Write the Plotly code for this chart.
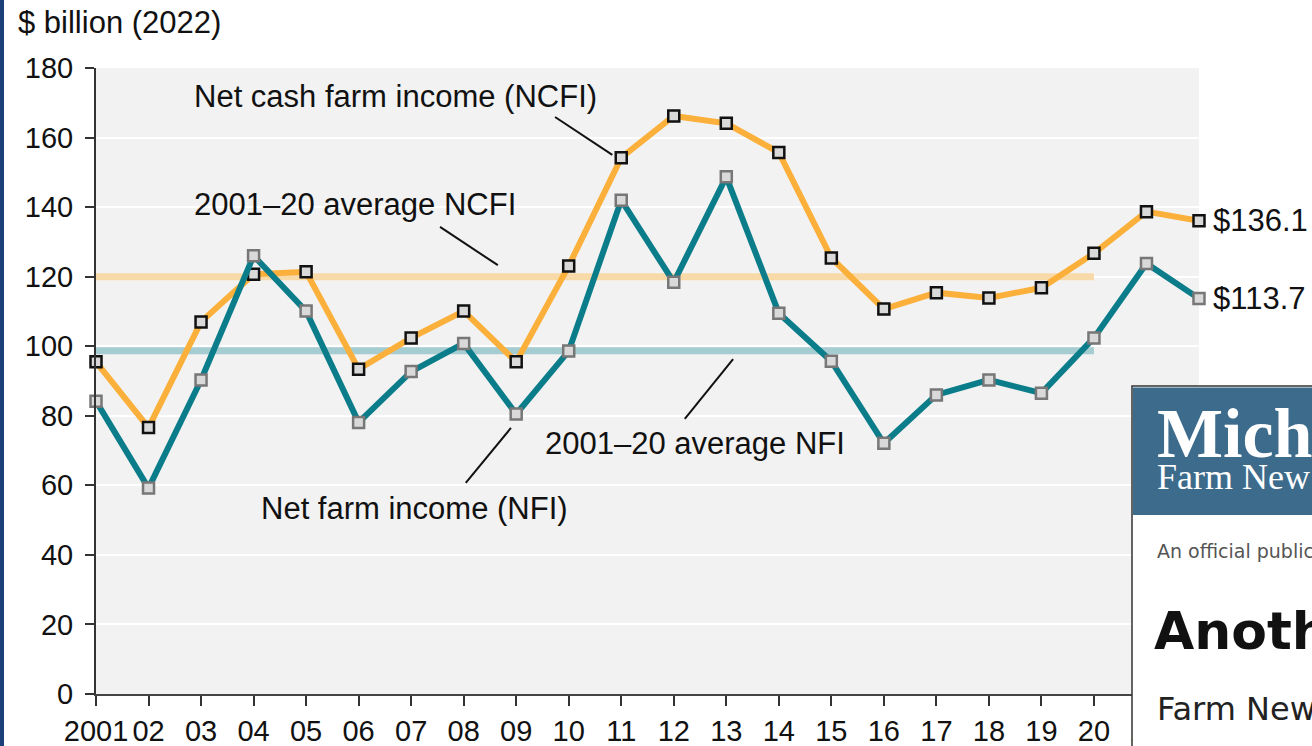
import plotly.graph_objects as go

# ---------------- data ----------------
years = list(range(2001, 2023))
tick_text = ["2001"] + [f"{y % 100:02d}" for y in range(2002, 2023)]
ncfi = [95.5, 76.6, 107.0, 120.7, 121.4, 93.4, 102.4, 110.1, 95.5, 123.1, 154.2,
        166.2, 164.1, 155.7, 125.4, 110.7, 115.4, 113.9, 116.8, 126.7, 138.7, 136.1]
nfi = [84.2, 59.2, 90.3, 126.0, 110.1, 78.1, 92.7, 100.8, 80.5, 98.6, 142.0,
       118.4, 148.7, 109.5, 95.7, 72.1, 86.0, 90.3, 86.5, 102.4, 123.8, 113.7]
avg_years = [2001, 2020]
avg_ncfi = 120.0
avg_nfi = 98.7
y_ticks = list(range(0, 181, 20))

# ---------------- geometry helpers (pixel -> paper) ----------------
W, H = 1312, 746
ML, MR, MT, MB = 96, 113, 68, 52
PW, PH = W - ML - MR, H - MT - MB


def px(x):
    return (x - ML) / PW


def py(y):
    return (H - MB - y) / PH


ORANGE = "#fbb03b"
TEAL = "#0b7d8a"
FONT = "Liberation Sans, Arial, sans-serif"

fig = go.Figure()

# average lines
fig.add_trace(go.Scatter(x=avg_years, y=[avg_ncfi] * 2, mode="lines",
                         line=dict(color="#f8d9a8", width=7), hoverinfo="skip"))
fig.add_trace(go.Scatter(x=avg_years, y=[avg_nfi] * 2, mode="lines",
                         line=dict(color="#a5ccd0", width=7), hoverinfo="skip"))

# series
fig.add_trace(go.Scatter(x=years, y=ncfi, mode="lines+markers", cliponaxis=False,
                         line=dict(color=ORANGE, width=6),
                         marker=dict(symbol="square", size=11, color="#d9d9d9",
                                     line=dict(color="#111111", width=2.5))))
fig.add_trace(go.Scatter(x=years, y=nfi, mode="lines+markers", cliponaxis=False,
                         line=dict(color=TEAL, width=6),
                         marker=dict(symbol="square", size=11, color="#d9d9d9",
                                     line=dict(color="#777777", width=2.5))))

shapes = []
# leader lines (data coords)
for (x0, y0, x1, y1) in [
    (2009.74, 165.9, 2010.83, 155.0),
    (2007.55, 134.3, 2008.65, 123.3),
    (2012.21, 79.1, 2013.13, 96.3),
    (2008.04, 60.7, 2008.90, 76.5),
]:
    shapes.append(dict(type="line", xref="x", yref="y", x0=x0, y0=y0, x1=x1, y1=y1,
                       line=dict(color="#111111", width=2), layer="above"))

# left page border
shapes.append(dict(type="rect", xref="paper", yref="paper",
                   x0=px(-2), x1=px(4), y0=py(760), y1=py(-10),
                   fillcolor="#1b3f78", line=dict(width=0), layer="above"))
# overlay web-page card
shapes.append(dict(type="rect", xref="paper", yref="paper",
                   x0=px(1132), x1=px(1330), y0=py(760), y1=py(386),
                   fillcolor="white", line=dict(color="#333333", width=1.5), layer="above"))
shapes.append(dict(type="rect", xref="paper", yref="paper",
                   x0=px(1133), x1=px(1330), y0=py(515), y1=py(387.5),
                   fillcolor="#3d6b8c", line=dict(width=0), layer="above"))

annotations = []


def txt(text, x, y, size, color="#111111", family=FONT, xanchor="center", bold=False):
    if bold:
        text = f"<b>{text}</b>"
    annotations.append(dict(text=text, xref="paper", yref="paper", x=px(x), y=py(y),
                            xanchor=xanchor, yanchor="middle", showarrow=False,
                            font=dict(size=size, color=color, family=family)))


txt("$ billion (2022)", 16, 22, 31, xanchor="left")
txt("Net cash farm income (NCFI)", 395, 96, 31)
txt("2001–20 average NCFI", 355, 204, 31)
txt("2001–20 average NFI", 695, 443, 31)
txt("Net farm income (NFI)", 414, 508, 31)

# end-value labels
for val in (ncfi[-1], nfi[-1]):
    annotations.append(dict(text=f"${val:.1f}", x=years[-1], y=val, xref="x", yref="y",
                            xanchor="left", yanchor="middle", xshift=12, showarrow=False,
                            font=dict(size=31, color="#111111", family=FONT)))

# overlay card texts (cut by the page edge, as in the reference)
SERIF = "Liberation Serif, DejaVu Serif, serif"
SANS2 = "DejaVu Sans, sans-serif"
txt("Mich", 1155, 433, 70, color="white", family=SERIF, xanchor="left", bold=True)
txt("Farm New", 1155, 477, 36, color="white", family=SERIF, xanchor="left")
txt("An official public", 1155, 551, 19, color="#555555", family=SANS2, xanchor="left")
txt("Anoth", 1152, 631, 52, color="#111111", family=SANS2, xanchor="left", bold=True)
txt("Farm New", 1155, 709, 32, color="#222222", family=SANS2, xanchor="left")

fig.update_layout(
    width=W, height=H,
    margin=dict(l=ML, r=MR, t=MT, b=MB, autoexpand=False),
    paper_bgcolor="white", plot_bgcolor="#f2f2f2",
    showlegend=False,
    font=dict(family=FONT, size=29, color="#111111"),
    shapes=shapes, annotations=annotations,
    xaxis=dict(range=[2001, 2022], tickvals=years, ticktext=tick_text, automargin=False,
               showgrid=False, zeroline=False, showline=True, linecolor="#444444", linewidth=2,
               ticks="outside", ticklen=10, tickwidth=2, tickcolor="#333333",
               tickfont=dict(size=29, family=FONT, color="#111111")),
    yaxis=dict(range=[0, 180], tickvals=y_ticks, showgrid=True, gridcolor="white", gridwidth=2,
               automargin=False, ticklabelstandoff=6,
               zeroline=False, showline=True, linecolor="#333333", linewidth=2,
               ticks="outside", ticklen=9, tickwidth=2, tickcolor="#333333",
               tickfont=dict(size=29, family=FONT, color="#111111")),
)

fig.write_html("out.html", config={"displayModeBar": False},
               post_script="document.body.style.margin='0';")
